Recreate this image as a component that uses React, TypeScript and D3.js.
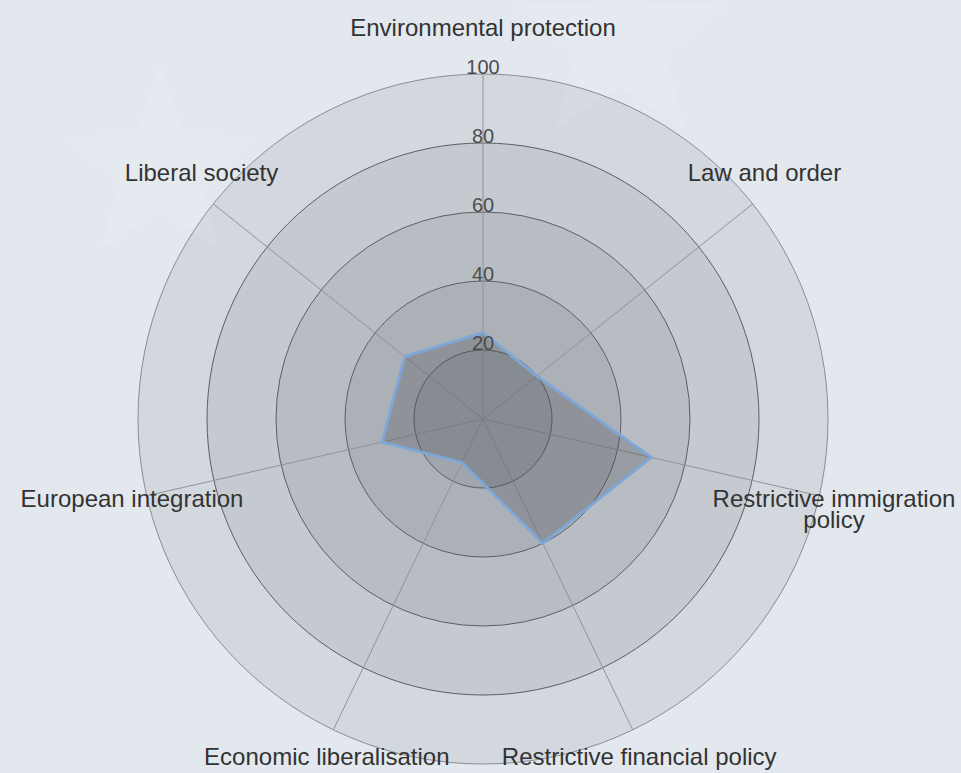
// Libraries
import { useEffect, useRef } from 'react';
import * as d3 from 'd3';

const axisLabels = ["Environmental protection",
                    "Law and order",
                    "Restrictive immigration policy",
                    "Restrictive financial policy",
                    "Economic liberalisation",
                    "European integration",
                    "Liberal society"];

// one value per axis, same order as above (0 - 100)
const scores = [25, 20, 50, 40, 14, 30, 29];

const tickValues = [20, 40, 60, 80, 100];

const width = 961;
const height = 773;
const cx = 483;
const cy = 419;
const outerRadius = 345;
const font = '"Liberation Sans", Arial, sans-serif';

function starPoints(cxs: number, cys: number, rOut: number, rIn: number) {
    const pts: [number, number][] = [];
    for (let i = 0; i < 10; i++) {
        const a = (Math.PI / 5) * i;
        const r = i % 2 === 0 ? rOut : rIn;
        pts.push([cxs + r * Math.sin(a), cys - r * Math.cos(a)]);
    }
    return pts;
}

function drawRadar(node: SVGSVGElement) {
    const svg = d3.select(node);
    svg.selectAll('*').remove();

    // background
    svg.append('rect')
      .attr('width', width)
      .attr('height', height)
      .attr('fill', '#e2e8ee');

    // faint stars behind the chart
    const stars = [[160, 168, 100], [620, 40, 110]];
    svg.selectAll('path.star')
      .data(stars)
      .join('path')
      .attr('class', 'star')
      .attr('d', d => 'M' + starPoints(d[0], d[1], d[2], d[2] * 0.42).join('L') + 'Z')
      .attr('fill', '#ffffff')
      .attr('opacity', 0.12);

    const r = d3.scaleLinear().domain([0, 100]).range([0, outerRadius]);
    const angle = d3.scaleLinear().domain([0, axisLabels.length]).range([0, 2 * Math.PI]);

    const g = svg.append('g').attr('transform', 'translate(' + cx + ',' + cy + ')');

    // rings, largest first so they stack darker toward the centre
    const rings = [...tickValues].reverse();
    g.selectAll('circle.ring')
      .data(rings)
      .join('circle')
      .attr('class', 'ring')
      .attr('r', d => r(d))
      .attr('fill', 'rgba(40,44,52,0.08)')
      .attr('stroke', (d) => d === 100 ? '#8a8d92' : '#5c5f63')
      .attr('stroke-width', 1);

    // spokes
    g.selectAll('line.spoke')
      .data(axisLabels)
      .join('line')
      .attr('class', 'spoke')
      .attr('x1', 0)
      .attr('y1', 0)
      .attr('x2', (d, i) => r(100) * Math.sin(angle(i)))
      .attr('y2', (d, i) => -r(100) * Math.cos(angle(i)))
      .attr('stroke', '#8f9296')
      .attr('stroke-width', 1);

    // data polygon
    const line = d3.lineRadial<number>()
      .angle((d, i) => angle(i))
      .radius(d => r(d))
      .curve(d3.curveLinearClosed);

    g.append('path')
      .attr('d', line(scores))
      .attr('fill', 'rgba(70,72,76,0.28)')
      .attr('stroke', '#7ea7d8')
      .attr('stroke-width', 3)
      .attr('stroke-linejoin', 'miter');

    // tick labels
    g.selectAll('text.tick')
      .data(tickValues)
      .join('text')
      .attr('class', 'tick')
      .attr('x', 0)
      .attr('y', d => -r(d))
      .attr('text-anchor', 'middle')
      .attr('font-family', font)
      .attr('font-size', 20)
      .attr('fill', '#4d4d4d')
      .text(d => d);

    // axis labels
    const labelR = r(100) + 15;
    const labels = g.selectAll('text.axis-label')
      .data(axisLabels)
      .join('text')
      .attr('class', 'axis-label')
      .attr('text-anchor', 'middle')
      .attr('font-family', font)
      .attr('font-size', 24)
      .attr('fill', '#333333')
      .attr('transform', (d, i) => {
          const a = angle(i);
          const c = Math.cos(a);
          const x = labelR * Math.sin(a);
          const y = -labelR * c - (c > 0 ? 26 : 21) * c;
          return 'translate(' + x + ',' + y + ')';
      });

    labels.each(function (d) {
        const text = d3.select(this);
        const lines = d === "Restrictive immigration policy"
          ? ["Restrictive immigration", "policy"]
          : [d];
        text.selectAll('tspan')
          .data(lines)
          .join('tspan')
          .attr('x', 0)
          .attr('dy', (l, j) => j === 0 ? 3 : 21)
          .text(l => l);
    });
}

export default function App() {
    const ref = useRef<SVGSVGElement>(null);

    useEffect(() => {
        if (ref.current) drawRadar(ref.current);
    }, []);

    return (
        <svg ref={ref}
             width={width}
             height={height}
             style={{ position: 'absolute', left: 0, top: 0, display: 'block' }} />
    );
}
